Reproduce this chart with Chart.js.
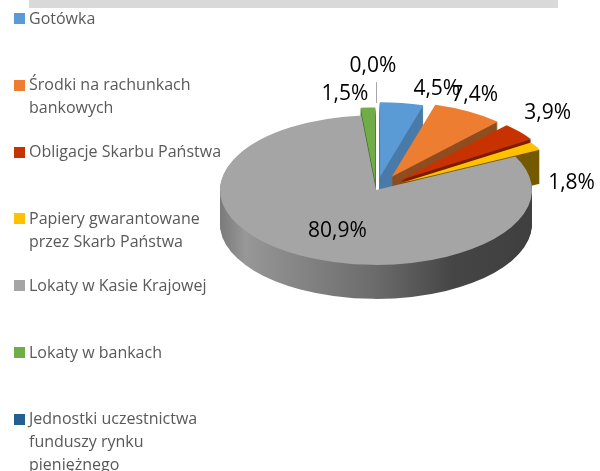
<!DOCTYPE html>
<html>
<head>
<meta charset="utf-8">
<style>
    html, body { margin: 0; background: #fff; }
    canvas { display: block; }
</style>
<script src="https://cdn.jsdelivr.net/npm/chart.js@4"></script>
</head>
<body>
<canvas id="myChart" width="600" height="471"></canvas>
<script>
const categories = [
    ['Gotówka'],
    ['Środki na rachunkach', 'bankowych'],
    ['Obligacje Skarbu Państwa'],
    ['Papiery gwarantowane', 'przez Skarb Państwa'],
    ['Lokaty w Kasie Krajowej'],
    ['Lokaty w bankach'],
    ['Jednostki uczestnictwa', 'funduszy rynku', 'pieniężnego']
]
const shares = [4.5, 7.4, 3.9, 1.8, 80.9, 1.5, 0.0]
const topColors = ['#5b9bd5', '#ed7d31', '#c83200', '#ffc000', '#a5a5a5', '#70ad47', '#255e91']
const wallColors = ['#4a7aa8', '#8f4e20', '#7a1f00', '#755a00', '#6b6b6b', '#44702a', '#173a5a']
const explode = [27, 32, 32, 28, 0, 16, 0]
const labelNudges = [[35, -15], [6, -17], [28, -20], [36, 36], [37, -25], [-23, -15], [-3, -50]]

// the look of the pie: flattened circle with a wall under it
const CX = 376
const CY = 190
const RADIUS = 156
const TILT = 0.48
const DEPTH = 34
const DRAW_ORDER = [0, 1, 2, 3, 5, 6, 4]   // back to front, big slice last

const midAngle = (el) => (el.startAngle + el.endAngle) / 2

const useTilt = (ctx, el, i, drop) => {
    const mid = midAngle(el)
    ctx.translate(CX, CY + drop)
    ctx.scale(1, TILT)
    ctx.translate(Math.cos(mid) * explode[i] - el.x, Math.sin(mid) * explode[i] - el.y)
}

const grayWall = (ctx, el) => {
    const g = ctx.createLinearGradient(el.x - RADIUS, 0, el.x + RADIUS, 0)
    g.addColorStop(0, '#7a7a7a')
    g.addColorStop(0.08, '#979797')
    g.addColorStop(0.5, '#6b6b6b')
    g.addColorStop(0.75, '#454545')
    g.addColorStop(1, '#3f3f3f')
    return g
}

// point on the rim of a slice, in page pixels
const rimPoint = (el, i) => {
    const mid = midAngle(el)
    const r = RADIUS + explode[i]
    return { x: CX + Math.cos(mid) * r, y: CY + Math.sin(mid) * r * TILT }
}

const tiltedPie = {
    id: 'tiltedPie',
    beforeDatasetsDraw(chart) {
        const ctx = chart.ctx
        const arcs = chart.getDatasetMeta(0).data
        DRAW_ORDER.forEach(i => {
            const el = arcs[i]
            const topOptions = el.options
            const wall = i === 4 ? grayWall(ctx, el) : wallColors[i]
            el.options = { ...topOptions, backgroundColor: wall }
            for (let drop = DEPTH; drop > 0; drop--) {
                ctx.save()
                useTilt(ctx, el, i, drop)
                el.draw(ctx)
                ctx.restore()
            }
            el.options = topOptions
            ctx.save()
            useTilt(ctx, el, i, 0)
            el.draw(ctx)
            ctx.restore()
        })
        return false
    },
    afterDraw(chart) {
        const ctx = chart.ctx
        const arcs = chart.getDatasetMeta(0).data
        ctx.save()

        // leader line of the 0,0% slice
        const zero = rimPoint(arcs[6], 6)
        ctx.strokeStyle = '#a6a6a6'
        ctx.lineWidth = 1
        ctx.beginPath()
        ctx.moveTo(zero.x + 0.5, zero.y - 33)
        ctx.lineTo(zero.x + 0.5, zero.y - 12)
        ctx.stroke()

        ctx.font = '21px "Open Sans"'
        ctx.fillStyle = '#000'
        ctx.textAlign = 'center'
        ctx.textBaseline = 'middle'
        shares.forEach((v, i) => {
            const p = rimPoint(arcs[i], i)
            ctx.fillText(v.toFixed(1).replace('.', ',') + '%', p.x + labelNudges[i][0], p.y + labelNudges[i][1] + 1)
        })
        ctx.restore()
    }
}

const sideLegend = {
    id: 'sideLegend',
    beforeDraw(chart) {
        const ctx = chart.ctx
        ctx.save()
        ctx.fillStyle = '#d9d9d9'
        ctx.fillRect(29, 0, 529, 8)

        ctx.font = '16px "Open Sans"'
        ctx.textAlign = 'left'
        ctx.textBaseline = 'middle'
        categories.forEach((lines, i) => {
            const top = 19 + i * 66.8
            ctx.fillStyle = topColors[i]
            ctx.fillRect(14, Math.round(top) - 6, 11, 11)
            ctx.fillStyle = '#595959'
            lines.forEach((line, n) => ctx.fillText(line, 29, top + n * 23))
        })
        ctx.restore()
    }
}

new Chart(document.getElementById('myChart'), {
    type: 'pie',
    data: {
        labels: categories.map(lines => lines.join(' ')),
        datasets: [{
            data: shares,
            backgroundColor: topColors,
            borderWidth: 0,
            radius: RADIUS
        }]
    },
    options: {
        responsive: false,
        animation: false,
        plugins: {
            legend: { display: false },
            tooltip: { enabled: false }
        }
    },
    plugins: [sideLegend, tiltedPie]
})
</script>
</body>
</html>
